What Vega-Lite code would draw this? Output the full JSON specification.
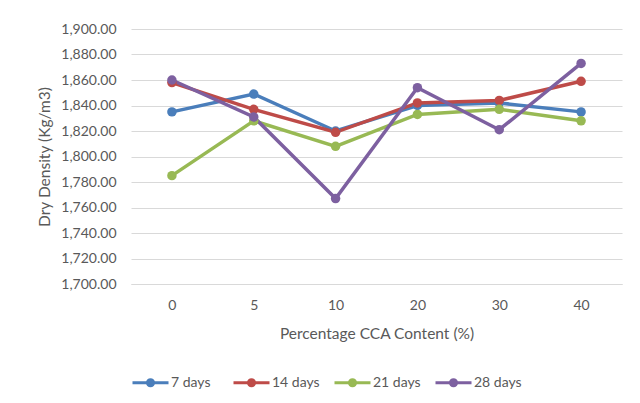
{
  "$schema": "https://vega.github.io/schema/vega-lite/v6.json",
  "width": 491,
  "height": 255,
  "autosize": {"type": "none"},
  "padding": {"left": 131, "top": 29, "right": 18, "bottom": 119},
  "background": "white",
  "config": {
    "font": "Lato",
    "view": {"stroke": null},
    "axis": {"labelColor": "#595959", "titleColor": "#595959", "labelFont": "Lato", "titleFont": "Lato", "titleFontWeight": "normal"}
  },
  "data": {
    "values": [
      {"cca": "0", "series": "7 days", "density": 1835},
      {"cca": "5", "series": "7 days", "density": 1849},
      {"cca": "10", "series": "7 days", "density": 1820},
      {"cca": "20", "series": "7 days", "density": 1840},
      {"cca": "30", "series": "7 days", "density": 1842},
      {"cca": "40", "series": "7 days", "density": 1835},
      {"cca": "0", "series": "14 days", "density": 1858},
      {"cca": "5", "series": "14 days", "density": 1837},
      {"cca": "10", "series": "14 days", "density": 1819},
      {"cca": "20", "series": "14 days", "density": 1842},
      {"cca": "30", "series": "14 days", "density": 1844},
      {"cca": "40", "series": "14 days", "density": 1859},
      {"cca": "0", "series": "21 days", "density": 1785},
      {"cca": "5", "series": "21 days", "density": 1828},
      {"cca": "10", "series": "21 days", "density": 1808},
      {"cca": "20", "series": "21 days", "density": 1833},
      {"cca": "30", "series": "21 days", "density": 1837},
      {"cca": "40", "series": "21 days", "density": 1828},
      {"cca": "0", "series": "28 days", "density": 1860},
      {"cca": "5", "series": "28 days", "density": 1831},
      {"cca": "10", "series": "28 days", "density": 1767},
      {"cca": "20", "series": "28 days", "density": 1854},
      {"cca": "30", "series": "28 days", "density": 1821},
      {"cca": "40", "series": "28 days", "density": 1873}
    ]
  },
  "mark": {"type": "line", "strokeWidth": 3.5, "point": {"filled": true, "size": 90, "opacity": 1}},
  "encoding": {
    "x": {
      "field": "cca",
      "type": "ordinal",
      "sort": ["0", "5", "10", "20", "30", "40"],
      "scale": {"type": "point", "padding": 0.5},
      "axis": {
        "title": "Percentage CCA Content (%)",
        "labelAngle": 0,
        "labelFontSize": 14,
        "labelPadding": 14,
        "titleFontSize": 15.5,
        "titlePadding": 14,
        "ticks": false,
        "domain": true,
        "domainColor": "#d9d9d9",
        "domainWidth": 1,
        "grid": false
      }
    },
    "y": {
      "field": "density",
      "type": "quantitative",
      "scale": {"domain": [1700, 1900], "nice": false, "zero": false},
      "axis": {
        "title": "Dry Density (Kg/m3)",
        "format": ",.2f",
        "values": [1700, 1720, 1740, 1760, 1780, 1800, 1820, 1840, 1860, 1880, 1900],
        "labelFontSize": 14,
        "labelPadding": 15,
        "titleFontSize": 15.5,
        "titlePadding": 8,
        "ticks": false,
        "domain": false,
        "gridColor": "#d9d9d9",
        "gridWidth": 1
      }
    },
    "color": {
      "field": "series",
      "type": "nominal",
      "sort": ["7 days", "14 days", "21 days", "28 days"],
      "scale": {
        "domain": ["7 days", "14 days", "21 days", "28 days"],
        "range": ["#4A7EBB", "#BE4B48", "#98B954", "#7D60A0"]
      },
      "legend": {
        "title": null,
        "orient": "none",
        "direction": "horizontal",
        "legendX": 0,
        "legendY": 334,
        "gridAlign": "all",
        "symbolType": "M-1,0L1,0M-0.17,0A0.17,0.17,0,1,0,0.17,0A0.17,0.17,0,1,0,-0.17,0Z",
        "symbolSize": 1296,
        "symbolStrokeWidth": 3,
        "labelFontSize": 14,
        "labelColor": "#595959",
        "labelOffset": 1,
        "columnPadding": 8,
        "encode": {
          "symbols": {
            "update": {
              "fill": {"scale": "color", "field": "value"},
              "stroke": {"scale": "color", "field": "value"},
              "opacity": {"value": 1}
            }
          }
        }
      }
    }
  }
}
